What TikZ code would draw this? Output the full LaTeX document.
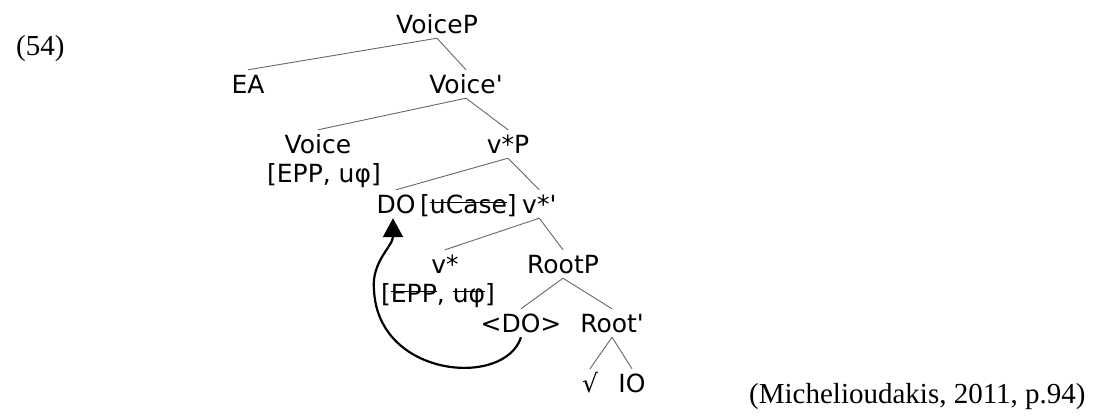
\documentclass[tikz,border=0pt]{standalone}
\usepackage{fontspec}
\setmainfont{DejaVu Sans}[Ligatures=TeXOff]
\newfontfamily\citefont{Liberation Serif}
\usetikzlibrary{arrows.meta}
% draw a horizontal bar through its argument
\newcommand\xstrike[1]{\setbox0\hbox{#1}\rlap{\rule[0.4em]{\wd0}{1.1pt}}\box0}
\begin{document}
\begin{tikzpicture}[x=1pt,y=-1pt,
  lbl/.style={inner xsep=0pt,inner ysep=5pt,text height=18pt,text depth=0pt,anchor=base,font=\fontsize{25}{28}\selectfont},
  feat/.style={inner sep=0pt,anchor=base,font=\fontsize{25}{28}\selectfont},
  branch/.style={draw=black!60,line width=0.9pt},
  move/.style={draw=black,line width=2.2pt,-{Triangle[width=20pt,length=19pt]}},
  cite/.style={inner sep=0pt,anchor=base west,font=\citefont\fontsize{29}{32}\selectfont}]
\useasboundingbox (0,0) rectangle (1103,415);

% example number and source
\node[cite] (num) at (16,55) {(54)};
\node[cite] (src) at (749,403) {(Michelioudakis, 2011, p.94)};

% tree labels (positions are baselines)
\node[lbl] (VoiceP) at (437,33) {VoiceP};
\node[lbl] (EA) at (248,93) {EA};
\node[lbl] (Voicebar) at (466,93) {Voice'};
\node[lbl] (Voice) at (318,153) {Voice};
\node[feat] (Voicef) at (324,182) {[EPP, uφ]};
\node[lbl] (vP) at (508,153) {v*P};
\node[lbl] (DO) at (396,213) {DO};
\node[feat,anchor=base west] (case) at (420,213) {[\xstrike{uCase}]};
\node[lbl,anchor=base west] (vbar) at (522,213) {v*'};
\node[lbl] (v) at (445,273) {v*};
\node[feat] (vf) at (438,302) {[\xstrike{EPP}, \xstrike{uφ}]};
\node[lbl] (RootP) at (563,273) {RootP};
\node[lbl] (DOt) at (521,332) {<DO>};
\node[lbl] (Rootbar) at (612,332) {Root'};
\node[lbl] (root) at (590,392) {√};
\node[lbl] (IO) at (632,392) {IO};

% branches
\draw[branch] (VoiceP.south) -- (EA.north);
\draw[branch] (VoiceP.south) -- (Voicebar.north);
\draw[branch] (Voicebar.south) -- (Voice.north);
\draw[branch] (Voicebar.south) -- (vP.north);
\draw[branch] (vP.south) -- (DO.north);
\draw[branch] (vP.south) -- (vbar.north);
\draw[branch] (vbar.south) -- (v.north);
\draw[branch] (vbar.south) -- (RootP.north);
\draw[branch] (RootP.south) -- (DOt.north);
\draw[branch] (RootP.south) -- (Rootbar.north);
\draw[branch] (Rootbar.south) -- (root.north);
\draw[branch] (Rootbar.south) -- (IO.north);

% movement of the object
\draw[move] (DOt.south) .. controls (505,388) and (378,378) .. (374,290)
  .. controls (371,262) and (393,246) .. ([xshift=-3pt]DO.south);
\end{tikzpicture}
\end{document}
